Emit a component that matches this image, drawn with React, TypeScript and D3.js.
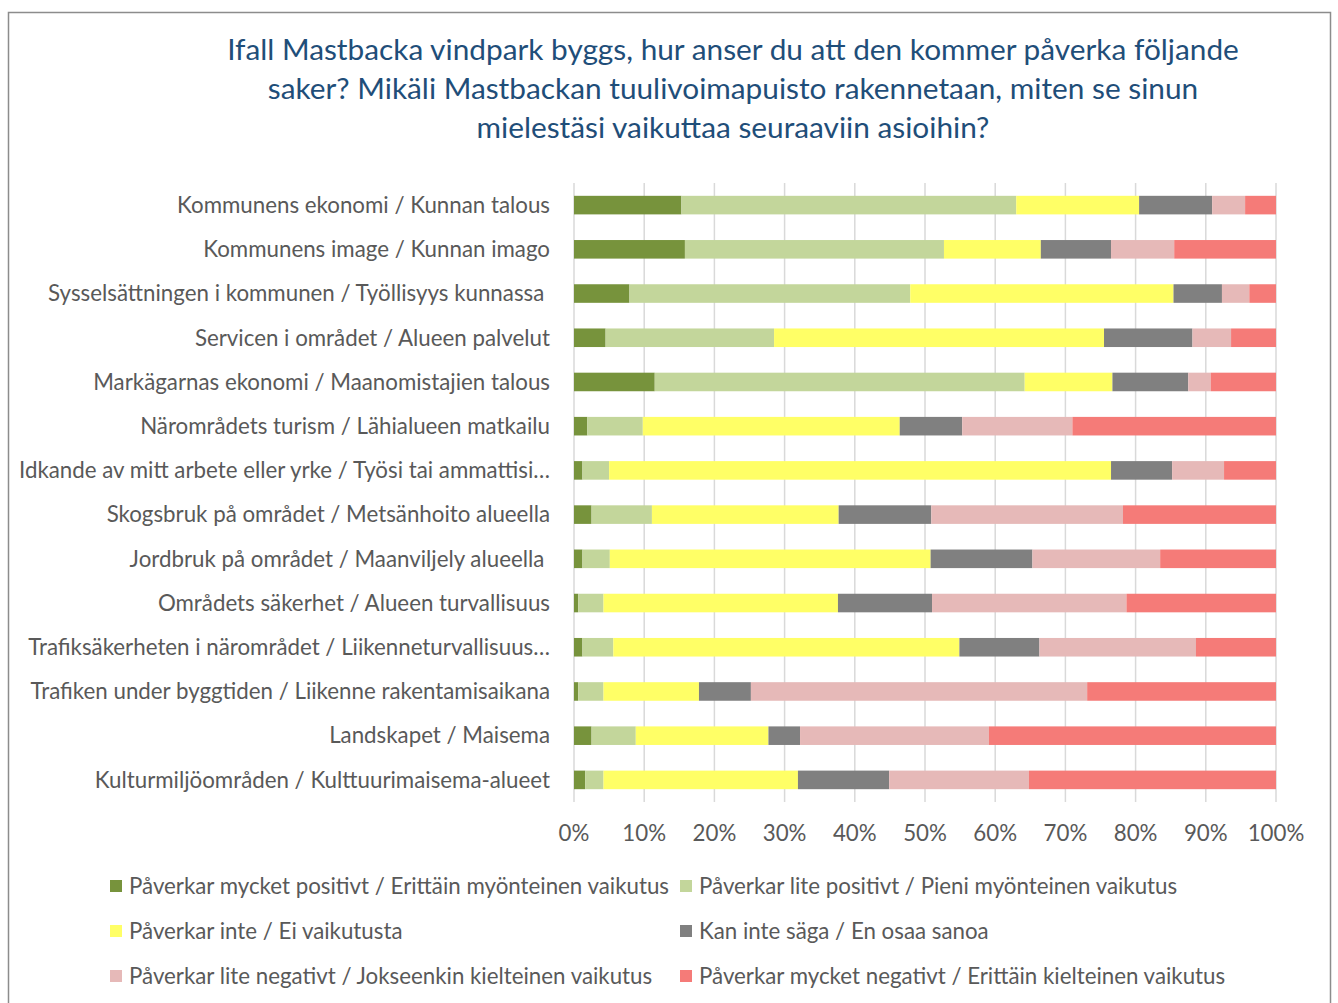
import React, { useRef, useEffect } from 'react';
import * as d3 from 'd3';

// Rows (top to bottom)
const categories = [
  'Kommunens ekonomi / Kunnan talous',
  'Kommunens image / Kunnan imago',
  'Sysselsättningen i kommunen / Työllisyys kunnassa ',
  'Servicen i området / Alueen palvelut',
  'Markägarnas ekonomi / Maanomistajien talous',
  'Närområdets turism / Lähialueen matkailu',
  'Idkande av mitt arbete eller yrke / Työsi tai ammattisi…',
  'Skogsbruk på området / Metsänhoito alueella',
  'Jordbruk på området / Maanviljely alueella ',
  'Områdets säkerhet / Alueen turvallisuus',
  'Trafiksäkerheten i närområdet / Liikenneturvallisuus…',
  'Trafiken under byggtiden / Liikenne rakentamisaikana',
  'Landskapet / Maisema',
  'Kulturmiljöområden / Kulttuurimaisema-alueet',
];

const seriesNames = [
  'Påverkar mycket positivt / Erittäin myönteinen vaikutus',
  'Påverkar lite positivt / Pieni myönteinen vaikutus',
  'Påverkar inte / Ei vaikutusta',
  'Kan inte säga / En osaa sanoa',
  'Påverkar lite negativt / Jokseenkin kielteinen vaikutus',
  'Påverkar mycket negativt / Erittäin kielteinen vaikutus',
];

const seriesColors = ['#77933C', '#C3D69B', '#FFFF66', '#808080', '#E6B9B8', '#F57B78'];

// percent shares per series, one value per category
const veryPositive = [15.3, 15.8, 7.9, 4.5, 11.5, 1.9, 1.2, 2.5, 1.2, 0.6, 1.2, 0.6, 2.5, 1.6];
const littlePositive = [47.7, 36.9, 40.0, 24.0, 52.7, 7.9, 3.8, 8.6, 3.9, 3.6, 4.4, 3.6, 6.3, 2.6];
const noEffect = [17.5, 13.8, 37.5, 47.0, 12.5, 36.6, 71.5, 26.6, 45.7, 33.4, 49.3, 13.6, 18.9, 27.7];
const cannotSay = [10.4, 10.0, 6.9, 12.6, 10.8, 8.9, 8.7, 13.2, 14.5, 13.4, 11.4, 7.4, 4.5, 13.0];
const littleNegative = [4.7, 9.0, 3.9, 5.5, 3.2, 15.7, 7.4, 27.3, 18.2, 27.7, 22.3, 47.9, 26.9, 19.9];
const veryNegative = [4.4, 14.5, 3.8, 6.4, 9.3, 29.0, 7.4, 21.8, 16.5, 21.3, 11.4, 26.9, 40.9, 35.2];

const titleLines = [
  'Ifall Mastbacka vindpark byggs, hur anser du att den kommer påverka följande',
  'saker? Mikäli Mastbackan tuulivoimapuisto rakennetaan, miten se sinun',
  'mielestäsi vaikuttaa seuraaviin asioihin?',
];

const xTicks = [0, 0.1, 0.2, 0.3, 0.4, 0.5, 0.6, 0.7, 0.8, 0.9, 1];

const FONT = 'Lato, "Open Sans", sans-serif';
const TEXT_SIZE = 22.3;

const App = () => {
  const svgRef = useRef<SVGSVGElement | null>(null);
  const width = 1338;
  const height = 1003;

  useEffect(() => {
    if (!svgRef.current) return;
    document.body.style.margin = '0';

    const svg = d3.select(svgRef.current);
    svg.selectAll('*').remove();

    const allSeries = [veryPositive, littlePositive, noEffect, cannotSay, littleNegative, veryNegative];
    const rows = categories.map((c, i) => {
      const row: any = { category: c };
      allSeries.forEach((s, k) => { row[k] = s[i]; });
      return row;
    });

    const stack = d3.stack<any>()
      .keys(d3.range(allSeries.length).map(String))
      .offset(d3.stackOffsetExpand);
    const stacked = stack(rows);

    const margin = { top: 183, left: 574, right: 62, bottom: 201 };
    const innerWidth = width - margin.left - margin.right;
    const innerHeight = height - margin.top - margin.bottom;

    // outer frame
    svg.append('rect')
      .attr('x', 8.5).attr('y', 12.5)
      .attr('width', 1322).attr('height', 1000)
      .attr('fill', '#fff')
      .attr('stroke', '#8c8c8c')
      .attr('stroke-width', 1.5);

    // title
    svg.append('g')
      .selectAll('text')
      .data(titleLines)
      .enter()
      .append('text')
      .attr('x', 733)
      .attr('y', (d, i) => 60 + i * 39)
      .attr('text-anchor', 'middle')
      .attr('font-family', FONT)
      .attr('font-size', 29.8)
      .attr('fill', '#1F4E79')
      .text(d => d);

    const g = svg.append('g')
      .attr('transform', `translate(${margin.left},${margin.top})`);

    const xScale = d3.scaleLinear().domain([0, 1]).range([0, innerWidth]);
    const yScale = d3.scaleBand()
      .domain(categories)
      .range([0, innerHeight])
      .paddingInner(0.58)
      .paddingOuter(0.29);

    // gridlines
    g.append('g')
      .selectAll('line')
      .data(xTicks)
      .enter()
      .append('line')
      .attr('x1', d => xScale(d))
      .attr('x2', d => xScale(d))
      .attr('y1', 0)
      .attr('y2', innerHeight)
      .attr('stroke', '#d9d9d9')
      .attr('stroke-width', 1.5);

    // bars
    g.append('g')
      .selectAll('g')
      .data(stacked)
      .enter()
      .append('g')
      .attr('fill', (d, i) => seriesColors[i])
      .selectAll('rect')
      .data(d => d)
      .enter()
      .append('rect')
      .attr('x', d => xScale(d[0]))
      .attr('y', d => yScale(d.data.category) as number)
      .attr('width', d => Math.max(0, xScale(d[1]) - xScale(d[0])))
      .attr('height', yScale.bandwidth());

    // category labels
    g.append('g')
      .selectAll('text')
      .data(categories)
      .enter()
      .append('text')
      .attr('x', -24)
      .attr('y', d => (yScale(d) as number) + yScale.bandwidth() / 2)
      .attr('dy', '0.35em')
      .attr('text-anchor', 'end')
      .style('white-space', 'pre')
      .attr('font-family', FONT)
      .attr('font-size', TEXT_SIZE)
      .attr('fill', '#595959')
      .text(d => d);

    // x tick labels
    g.append('g')
      .selectAll('text')
      .data(xTicks)
      .enter()
      .append('text')
      .attr('x', d => xScale(d))
      .attr('y', innerHeight + 39)
      .attr('text-anchor', 'middle')
      .attr('font-family', FONT)
      .attr('font-size', TEXT_SIZE)
      .attr('fill', '#595959')
      .text(d => d3.format('.0%')(d));

    // legend
    const legendPos = [
      [110, 886], [680, 886],
      [110, 931], [680, 931],
      [110, 976], [680, 976],
    ];
    const legend = svg.append('g')
      .selectAll('g')
      .data(seriesNames)
      .enter()
      .append('g')
      .attr('transform', (d, i) => `translate(${legendPos[i][0]},${legendPos[i][1]})`);
    legend.append('rect')
      .attr('x', 0).attr('y', -6)
      .attr('width', 12).attr('height', 12)
      .attr('fill', (d, i) => seriesColors[i]);
    legend.append('text')
      .attr('x', 19)
      .attr('y', 0)
      .attr('dy', '0.35em')
      .attr('font-family', FONT)
      .attr('font-size', TEXT_SIZE)
      .attr('fill', '#595959')
      .text(d => d);
  }, []);

  return <svg ref={svgRef} width={width} height={height} style={{ display: 'block' }}></svg>;
};

export default App;
